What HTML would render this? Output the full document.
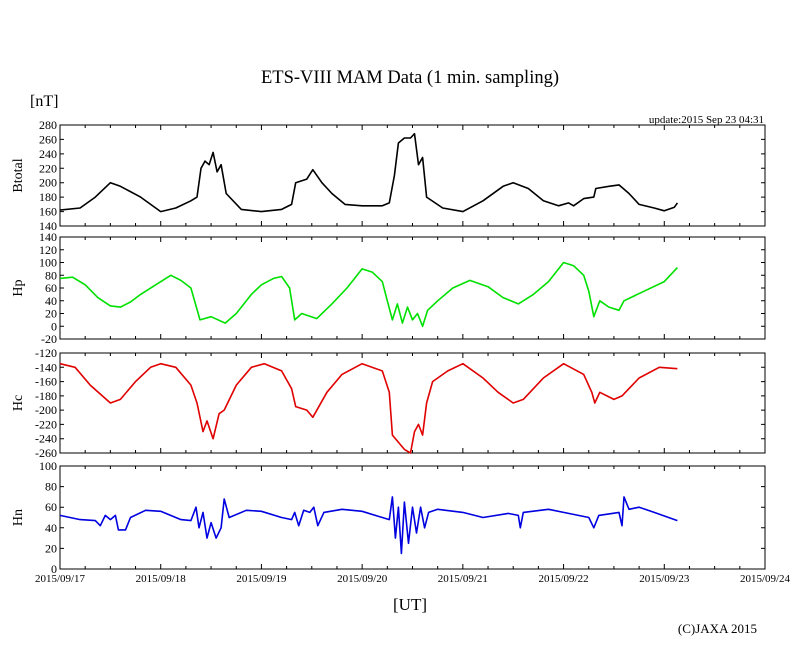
<!DOCTYPE html>
<html><head><meta charset="utf-8"><style>
body{margin:0;background:#fff}
svg text{font-family:"Liberation Serif",serif;fill:#000}
</style></head><body>
<svg id="c" width="810" height="655">
<text x="410" y="83" text-anchor="middle" font-size="18.5">ETS-VIII MAM Data (1 min. sampling)</text>
<text x="30" y="106" font-size="16">[nT]</text>
<text x="764" y="123" text-anchor="end" font-size="11">update:2015 Sep 23 04:31</text>
<text x="410" y="610" text-anchor="middle" font-size="17">[UT]</text>
<text x="757" y="633" text-anchor="end" font-size="13">(C)JAXA 2015</text>
</svg>
<script>
const dayLabels=["2015/09/17","2015/09/18","2015/09/19","2015/09/20","2015/09/21","2015/09/22","2015/09/23","2015/09/24"];
const btT=[0,.2,.35,.5,.6,.8,1,1.15,1.3,1.36,1.4,1.44,1.48,1.52,1.56,1.6,1.65,1.8,2,2.2,2.3,2.34,2.45,2.51,2.6,2.7,2.83,3,3.2,3.27,3.32,3.36,3.42,3.48,3.52,3.56,3.6,3.64,3.8,4,4.2,4.4,4.5,4.65,4.8,4.95,5.05,5.1,5.2,5.3,5.32,5.45,5.55,5.65,5.75,5.9,6,6.1,6.13];
const btV=[162,165,180,200,195,180,160,165,175,180,220,230,225,242,215,225,185,163,160,163,170,200,205,218,200,185,170,168,168,172,210,255,262,262,268,225,235,180,165,160,175,195,200,192,175,168,172,168,178,180,192,195,197,185,170,165,161,166,172];
const hpT=[0,.125,.25,.375,.5,.6,.7,.8,.95,1.1,1.2,1.3,1.39,1.5,1.64,1.75,1.9,2,2.12,2.2,2.28,2.33,2.4,2.55,2.7,2.85,3,3.1,3.2,3.25,3.3,3.35,3.4,3.45,3.5,3.55,3.6,3.65,3.75,3.9,4.07,4.25,4.4,4.55,4.7,4.85,5,5.1,5.2,5.25,5.3,5.36,5.45,5.55,5.6,5.8,6,6.13];
const hpV=[75,77,65,45,32,30,38,50,65,80,72,60,10,15,5,20,50,65,75,78,60,10,20,12,35,60,90,85,70,40,10,35,5,30,10,20,0,25,40,60,72,62,45,35,50,70,100,95,80,55,15,40,30,25,40,55,70,92];
const hcT=[0,.15,.3,.5,.6,.75,.9,1,1.15,1.3,1.36,1.42,1.46,1.52,1.58,1.63,1.75,1.9,2.03,2.2,2.3,2.34,2.45,2.51,2.65,2.8,3,3.2,3.27,3.3,3.36,3.42,3.48,3.52,3.56,3.6,3.64,3.7,3.85,4,4.2,4.35,4.5,4.6,4.8,5,5.2,5.28,5.31,5.36,5.5,5.58,5.75,5.95,6.13];
const hcV=[-135,-140,-165,-190,-185,-160,-140,-135,-140,-165,-190,-230,-215,-240,-205,-200,-165,-140,-135,-145,-170,-195,-200,-210,-175,-150,-135,-145,-175,-235,-245,-255,-260,-230,-220,-235,-190,-160,-145,-135,-155,-175,-190,-185,-155,-135,-150,-175,-190,-175,-185,-180,-155,-140,-142];
const hnT=[0,.2,.35,.4,.45,.5,.55,.58,.65,.7,.85,1,1.2,1.3,1.35,1.38,1.42,1.46,1.5,1.55,1.6,1.63,1.68,1.85,2,2.2,2.3,2.33,2.37,2.42,2.48,2.52,2.56,2.62,2.8,3,3.2,3.27,3.3,3.33,3.36,3.39,3.42,3.46,3.5,3.54,3.58,3.62,3.66,3.75,4,4.2,4.45,4.55,4.57,4.6,4.85,5,5.25,5.3,5.35,5.55,5.58,5.6,5.65,5.75,5.9,6.13];
const hnV=[52,48,47,42,52,48,52,38,38,50,57,56,48,47,60,40,55,30,45,30,40,68,50,57,56,50,48,55,42,57,55,60,42,55,58,56,50,48,70,30,60,15,65,25,60,35,60,40,55,58,55,50,54,52,40,55,58,55,50,40,52,55,42,70,58,60,55,47];
const panels=[
 {name:"btotal",label:"Btotal",top:125,bot:226,min:140,max:280,step:20,t:btT,v:btV,color:"#000"},
 {name:"hp",label:"Hp",top:237,bot:339,min:-20,max:140,step:20,t:hpT,v:hpV,color:"#00e000"},
 {name:"hc",label:"Hc",top:353,bot:453,min:-260,max:-120,step:20,t:hcT,v:hcV,color:"#e00000"},
 {name:"hn",label:"Hn",top:466,bot:569,min:0,max:100,step:20,t:hnT,v:hnV,color:"#0000e0"}];
const svg=document.getElementById('c');const NS="http://www.w3.org/2000/svg";
const X0=60,X1=765,DAYS=7;
function xs(d){return X0+(X1-X0)*d/DAYS;}
function mk(tag,at,txt){const e=document.createElementNS(NS,tag);for(const k in at)e.setAttribute(k,at[k]);if(txt!==undefined)e.textContent=txt;svg.appendChild(e);return e;}
panels.forEach(p=>{
 const ys=v=>p.bot-(v-p.min)/(p.max-p.min)*(p.bot-p.top);
 const fr=mk('rect',{x:X0,y:p.top,width:X1-X0,height:p.bot-p.top,fill:'none',stroke:'#000','stroke-width':1});
 
 
 for(let v=p.min;v<=p.max;v+=p.step){
  const y=ys(v);
  const tk=mk('path',{d:`M${X0},${y}h4M${X1},${y}h-4`,stroke:'#000','stroke-width':1});
  
  
  const tl=mk('text',{x:X0-3,y:y+4,'text-anchor':'end','font-size':12},String(v));
  
  
 }
 for(let q=0;q<=DAYS*4;q++){
  const x=xs(q/4),L=q%4==0?5:3;
  const tk=mk('path',{d:`M${x},${p.top}v${L}M${x},${p.bot}v-${L}`,stroke:'#000','stroke-width':1});
  
  
 }
 const yl=mk('text',{x:0,y:0,'text-anchor':'middle','font-size':14,transform:`translate(22,${(p.top+p.bot)/2}) rotate(-90)`},p.label);
 
 
 const d=p.t.map((t,i)=>(i?'L':'M')+xs(t).toFixed(1)+','+ys(p.v[i]).toFixed(1)).join('');
 const ln=mk('path',{d:d,fill:'none',stroke:p.color,'stroke-width':1.6,'stroke-linejoin':'round'});
 
 
});
dayLabels.forEach((s,i)=>{
 const t=mk('text',{x:xs(i),y:582,'text-anchor':'middle','font-size':11},s);
 
 
});
</script>
</body></html>
